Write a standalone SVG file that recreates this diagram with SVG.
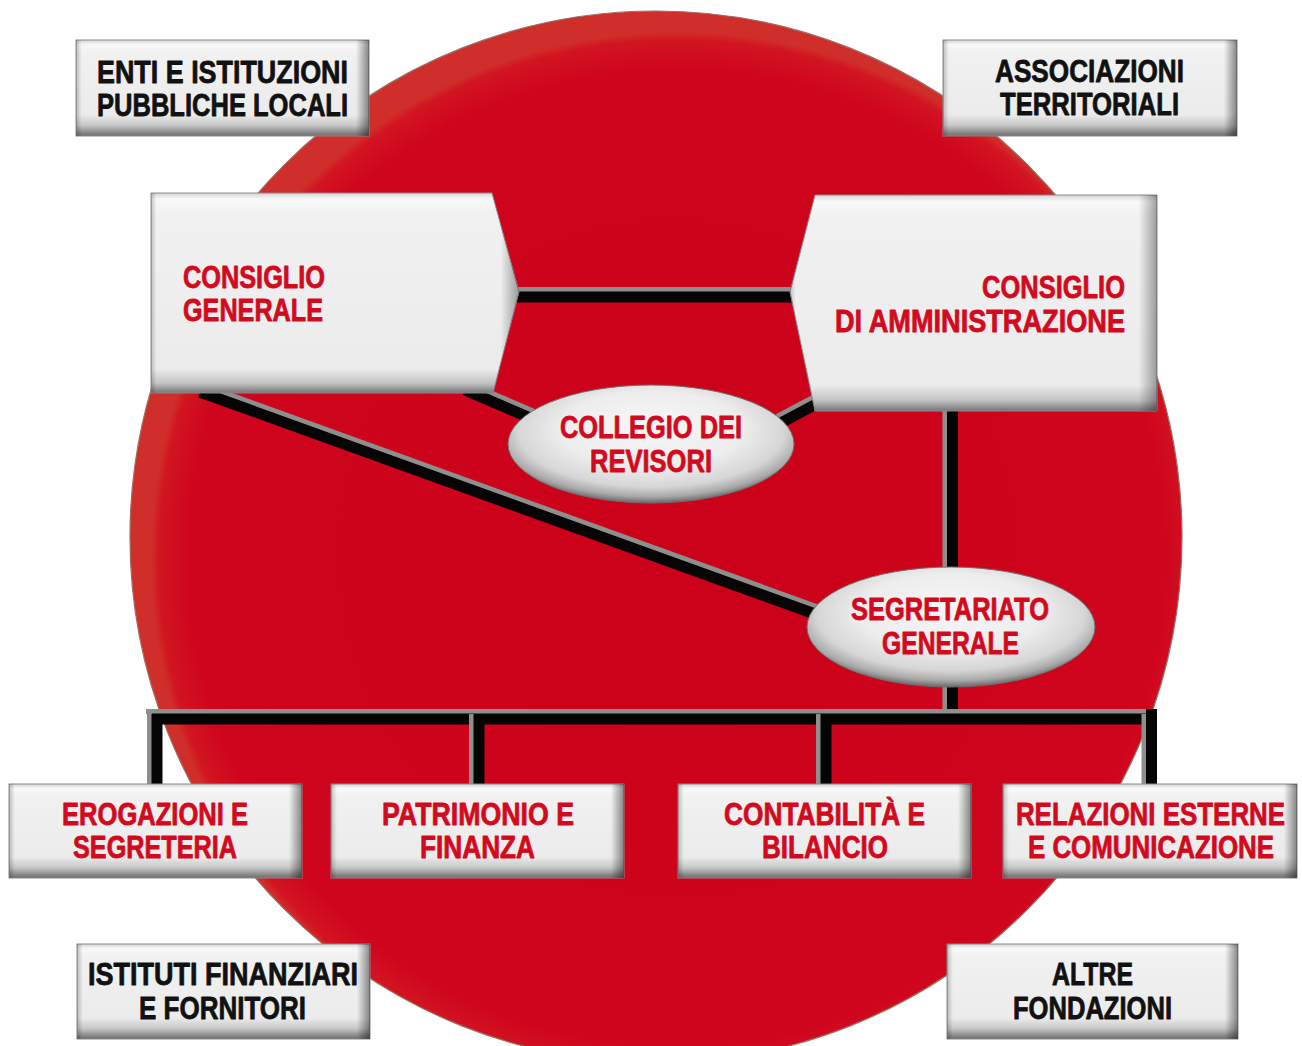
<svg xmlns="http://www.w3.org/2000/svg" width="1302" height="1046" viewBox="0 0 1302 1046">
<defs>
<style>
.t{font-family:"Liberation Sans",Arial,Helvetica,sans-serif;font-weight:bold;font-size:32px;stroke-width:0.8;stroke-linejoin:round}
.r{fill:#d3091d;stroke:#d3091d}
.k{fill:#111111;stroke:#111111}
.ln{stroke:#050505;stroke-width:11;fill:none;stroke-linecap:butt}
.hl{stroke:#8e8e8e;stroke-width:5;fill:none;stroke-linecap:butt}
.bx{fill:url(#gV);stroke:#8a8a8a;stroke-width:1}
.bxo{fill:url(#gH)}
.bg{fill:url(#gV2);stroke:#8a8a8a;stroke-width:1}
.bgo{fill:url(#gH2)}
.el{fill:url(#gE);stroke:#6f6f6f;stroke-width:1}
</style>
<linearGradient id="gV" x1="0" y1="0" x2="0" y2="1">
<stop offset="0" stop-color="#d6d6d6"/>
<stop offset="0.05" stop-color="#f8f8f8"/>
<stop offset="0.14" stop-color="#f1f1f1"/>
<stop offset="0.78" stop-color="#ebebeb"/>
<stop offset="0.89" stop-color="#c6c6c6"/>
<stop offset="1" stop-color="#6c6c6c"/>
</linearGradient>
<linearGradient id="gH" x1="0" y1="0" x2="1" y2="0">
<stop offset="0" stop-color="#000" stop-opacity="0.22"/>
<stop offset="0.02" stop-color="#000" stop-opacity="0"/>
<stop offset="0.955" stop-color="#000" stop-opacity="0"/>
<stop offset="1" stop-color="#000" stop-opacity="0.45"/>
</linearGradient>
<linearGradient id="gV2" x1="0" y1="0" x2="0" y2="1">
<stop offset="0" stop-color="#d6d6d6"/>
<stop offset="0.03" stop-color="#f8f8f8"/>
<stop offset="0.1" stop-color="#f1f1f1"/>
<stop offset="0.88" stop-color="#ebebeb"/>
<stop offset="0.95" stop-color="#c4c4c4"/>
<stop offset="1" stop-color="#767676"/>
</linearGradient>
<linearGradient id="gH2" x1="0" y1="0" x2="1" y2="0">
<stop offset="0" stop-color="#000" stop-opacity="0.2"/>
<stop offset="0.015" stop-color="#000" stop-opacity="0"/>
<stop offset="0.95" stop-color="#000" stop-opacity="0"/>
<stop offset="1" stop-color="#000" stop-opacity="0.35"/>
</linearGradient>
<radialGradient id="gE" cx="0.5" cy="0.42" r="0.58" fx="0.5" fy="0.32">
<stop offset="0" stop-color="#f7f7f7"/>
<stop offset="0.55" stop-color="#ededed"/>
<stop offset="0.8" stop-color="#d6d6d6"/>
<stop offset="0.92" stop-color="#a9a9a9"/>
<stop offset="1" stop-color="#6a6a6a"/>
</radialGradient>
<radialGradient id="gR" cx="0.52" cy="0.52" r="0.5">
<stop offset="0" stop-color="#cb0019"/>
<stop offset="0.93" stop-color="#cf051d"/>
<stop offset="0.985" stop-color="#d21521"/>
<stop offset="1" stop-color="#d02e2a"/>
</radialGradient>
</defs>
<rect x="0" y="0" width="1302" height="1046" fill="#ffffff"/>
<circle id="disc" cx="656" cy="537" r="526" fill="url(#gR)" stroke="#9a6e62" stroke-width="1.2"/>

<g id="connectors">
<path class="hl" d="M510 289.5 H800"/>
<path class="ln" d="M510 297 H800"/>
<path class="hl" d="M203 385 L818 607"/>
<path class="ln" d="M200 392 L815 614"/>
<path class="hl" d="M468 383 L538 413"/>
<path class="ln" d="M465 390 L535 420"/>
<path class="hl" d="M816.5 395.4 L771.5 419.4"/>
<path class="ln" d="M820 402 L775 426"/>
<path class="hl" d="M945 405 V575"/>
<path class="ln" d="M952.5 405 V575"/>
<path class="hl" d="M945 680 V716"/>
<path class="ln" d="M952.5 680 V716"/>
<path class="hl" d="M146 711.5 H1157"/>
<path class="ln" d="M149 719 H1157"/>
<path class="hl" d="M149.5 709 V786"/>
<path class="ln" d="M157 714 V786"/>
<path class="hl" d="M471.5 714 V786"/>
<path class="ln" d="M479 714 V786"/>
<path class="hl" d="M818.5 714 V786"/>
<path class="ln" d="M826 714 V786"/>
<path class="hl" d="M1144 714 V786"/>
<path class="ln" d="M1151.5 709 V786"/>
</g>

<g id="enti">
<rect class="bx" x="76" y="40" width="293" height="96"/>
<rect class="bxo" x="76" y="40" width="293" height="96"/>
<text class="t k" x="97" y="83" textLength="251" lengthAdjust="spacingAndGlyphs">ENTI E ISTITUZIONI</text>
<text class="t k" x="97" y="116" textLength="251" lengthAdjust="spacingAndGlyphs">PUBBLICHE LOCALI</text>
</g>

<g id="associazioni">
<rect class="bx" x="943" y="40" width="294" height="96"/>
<rect class="bxo" x="943" y="40" width="294" height="96"/>
<text class="t k" x="995" y="82" textLength="189" lengthAdjust="spacingAndGlyphs">ASSOCIAZIONI</text>
<text class="t k" x="1000" y="115" textLength="179" lengthAdjust="spacingAndGlyphs">TERRITORIALI</text>
</g>

<g id="consiglio-generale">
<polygon class="bg" points="151,193 492,193 519,292 493,393 151,393"/>
<polygon class="bgo" points="151,193 492,193 519,292 493,393 151,393"/>
<text class="t r" x="183" y="288" textLength="142" lengthAdjust="spacingAndGlyphs">CONSIGLIO</text>
<text class="t r" x="183" y="321" textLength="140" lengthAdjust="spacingAndGlyphs">GENERALE</text>
</g>

<g id="consiglio-amministrazione">
<polygon class="bg" points="815,195 1157,195 1157,411 815,411 790,292"/>
<polygon class="bgo" points="815,195 1157,195 1157,411 815,411 790,292"/>
<text class="t r" x="982" y="298" textLength="143" lengthAdjust="spacingAndGlyphs">CONSIGLIO</text>
<text class="t r" x="835" y="332" textLength="290" lengthAdjust="spacingAndGlyphs">DI AMMINISTRAZIONE</text>
</g>

<g id="collegio-revisori">
<ellipse class="el" cx="651" cy="444" rx="143" ry="59"/>
<text class="t r" x="560" y="438" textLength="182" lengthAdjust="spacingAndGlyphs">COLLEGIO DEI</text>
<text class="t r" x="590" y="472" textLength="122" lengthAdjust="spacingAndGlyphs">REVISORI</text>
</g>

<g id="segretariato">
<ellipse class="el" cx="951" cy="627" rx="144" ry="60"/>
<text class="t r" x="851" y="620" textLength="198" lengthAdjust="spacingAndGlyphs">SEGRETARIATO</text>
<text class="t r" x="882" y="654" textLength="137" lengthAdjust="spacingAndGlyphs">GENERALE</text>
</g>

<g id="erogazioni">
<rect class="bx" x="9" y="784" width="293" height="94"/>
<rect class="bxo" x="9" y="784" width="293" height="94"/>
<text class="t r" x="62" y="825" textLength="186" lengthAdjust="spacingAndGlyphs">EROGAZIONI E</text>
<text class="t r" x="73" y="858" textLength="164" lengthAdjust="spacingAndGlyphs">SEGRETERIA</text>
</g>

<g id="patrimonio">
<rect class="bx" x="331" y="784" width="293" height="94"/>
<rect class="bxo" x="331" y="784" width="293" height="94"/>
<text class="t r" x="382" y="825" textLength="192" lengthAdjust="spacingAndGlyphs">PATRIMONIO E</text>
<text class="t r" x="420" y="858" textLength="115" lengthAdjust="spacingAndGlyphs">FINANZA</text>
</g>

<g id="contabilita">
<rect class="bx" x="678" y="784" width="293" height="94"/>
<rect class="bxo" x="678" y="784" width="293" height="94"/>
<text class="t r" x="724" y="825" textLength="201" lengthAdjust="spacingAndGlyphs">CONTABILITÀ E</text>
<text class="t r" x="762" y="858" textLength="126" lengthAdjust="spacingAndGlyphs">BILANCIO</text>
</g>

<g id="relazioni">
<rect class="bx" x="1003" y="784" width="294" height="94"/>
<rect class="bxo" x="1003" y="784" width="294" height="94"/>
<text class="t r" text-anchor="middle" transform="translate(1150.5 825) scale(0.81 1)">RELAZIONI ESTERNE</text>
<text class="t r" text-anchor="middle" transform="translate(1151 858) scale(0.81 1)">E COMUNICAZIONE</text>
</g>

<g id="istituti">
<rect class="bx" x="77" y="944" width="293" height="95"/>
<rect class="bxo" x="77" y="944" width="293" height="95"/>
<text class="t k" x="88" y="985" textLength="270" lengthAdjust="spacingAndGlyphs">ISTITUTI FINANZIARI</text>
<text class="t k" x="139" y="1019" textLength="167" lengthAdjust="spacingAndGlyphs">E FORNITORI</text>
</g>

<g id="altre-fondazioni">
<rect class="bx" x="947" y="944" width="291" height="95"/>
<rect class="bxo" x="947" y="944" width="291" height="95"/>
<text class="t k" x="1052" y="985" textLength="81" lengthAdjust="spacingAndGlyphs">ALTRE</text>
<text class="t k" x="1013" y="1019" textLength="159" lengthAdjust="spacingAndGlyphs">FONDAZIONI</text>
</g>
</svg>
